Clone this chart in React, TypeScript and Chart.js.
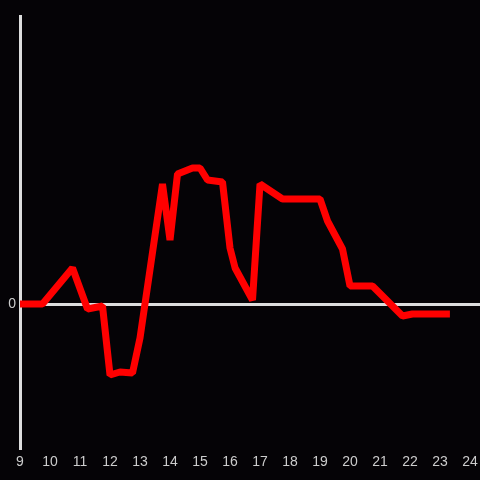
import React, { useEffect, useRef } from "react";
import { Chart, registerables } from "chart.js";

Chart.register(...registerables);

const hours: number[] = [9, 9.75, 10.75, 11.25, 11.75, 12, 12.33, 12.75, 13, 13.75, 14, 14.25, 14.75, 15, 15.25, 15.75, 16, 16.17, 16.75, 17, 17.75, 19, 19.25, 19.75, 20, 20.75, 21.75, 22.08, 23.33];
const values: number[] = [0, 0, 36, -5, -2, -71, -68, -69, -34, 120, 64, 130, 136, 136, 124, 122, 56, 36, 4, 120, 105, 105, 83, 55, 18, 18, -12, -10, -10];
const xTicks: number[] = [9, 10, 11, 12, 13, 14, 15, 16, 17, 18, 19, 20, 21, 22, 23, 24];
const yTicks: number[] = [0];

export default function App() {
  const ref = useRef<HTMLCanvasElement | null>(null);
  useEffect(() => {
    document.body.style.margin = "0";
    document.body.style.background = "#050306";
    if (!ref.current) return;
    const chart = new Chart(ref.current, {
      type: "line",
      data: {
        datasets: [
          {
            data: hours.map((h, i) => ({ x: h, y: values[i] })),
            borderColor: "#ff0000",
            borderWidth: 7,
            borderJoinStyle: "bevel",
            pointRadius: 0,
            tension: 0,
            fill: false,
          },
        ],
      },
      options: {
        animation: false,
        responsive: false,
        maintainAspectRatio: false,
        layout: { padding: { top: 16, left: 0, right: 0, bottom: 0 } },
        plugins: { legend: { display: false }, tooltip: { enabled: false } },
        scales: {
          x: {
            type: "linear",
            min: 9,
            max: 24.333,
            afterBuildTicks: (axis: any) => {
              axis.ticks = xTicks.map((v) => ({ value: v }));
            },
            afterFit: (axis: any) => {
              axis.height = 32;
            },
            ticks: {
              color: "#cccccc",
              font: { family: "'Liberation Sans', Arial, sans-serif", size: 14 },
              padding: 0,
              maxRotation: 0,
              autoSkip: false,
            },
            grid: { display: true, color: "rgba(0,0,0,0)", drawOnChartArea: false, drawTicks: true, tickLength: 6 },
            border: { display: false },
          },
          y: {
            type: "linear",
            min: -144,
            max: 288,
            afterBuildTicks: (axis: any) => {
              axis.ticks = yTicks.map((v) => ({ value: v }));
            },
            afterFit: (axis: any) => {
              axis.width = 20;
            },
            ticks: {
              color: "#cccccc",
              font: { family: "'Liberation Sans', Arial, sans-serif", size: 14 },
              padding: 4,
            },
            grid: { color: "#dddddd", lineWidth: 3, drawTicks: false },
            border: { display: true, color: "#dddddd", width: 3 },
          },
        },
      },
    });
    return () => chart.destroy();
  }, []);
  return (
    <div style={{ width: 480, height: 480, background: "#050306" }}>
      <canvas ref={ref} width={480} height={480} style={{ display: "block" }} />
    </div>
  );
}
